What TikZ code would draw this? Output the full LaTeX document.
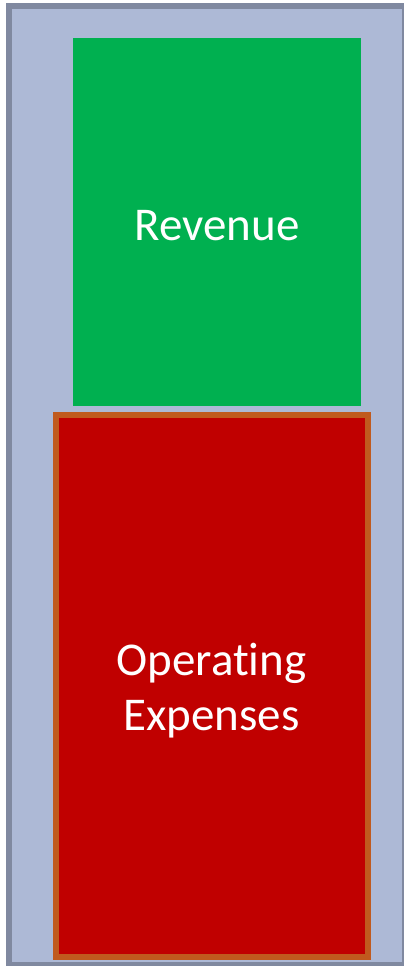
\documentclass[tikz,border=0pt]{standalone}
\usepackage{fontspec}
\setmainfont[Ligatures=CommonOff]{Carlito}
\definecolor{panelfill}{HTML}{ADB9D6}
\definecolor{paneledge}{HTML}{8089A0}
\definecolor{revgreen}{HTML}{00B050}
\definecolor{opred}{HTML}{C00000}
\definecolor{opedge}{HTML}{C05A1E}
\tikzset{
  blocklabel/.style={text=white, font=\fontsize{47}{55}\selectfont, align=center}
}
\begin{document}
\begin{tikzpicture}[x=1pt,y=-1pt]
\useasboundingbox (0,0) rectangle (404,966);
\fill[white] (0,0) rectangle (404,966);
% outer panel
\draw[paneledge, fill=panelfill, line width=6pt] (9,6) rectangle (405,965);
% revenue block
\fill[revgreen] (73,38) rectangle (361,406);
\node[blocklabel] (rev) at (217,226) {Revenue};
% operating expenses block
\draw[opedge, fill=opred, line width=6pt] (56,415) rectangle (367.5,956.5);
\node[blocklabel] (opex) at (211.5,691) {Operating\\Expenses};
\end{tikzpicture}
\end{document}
